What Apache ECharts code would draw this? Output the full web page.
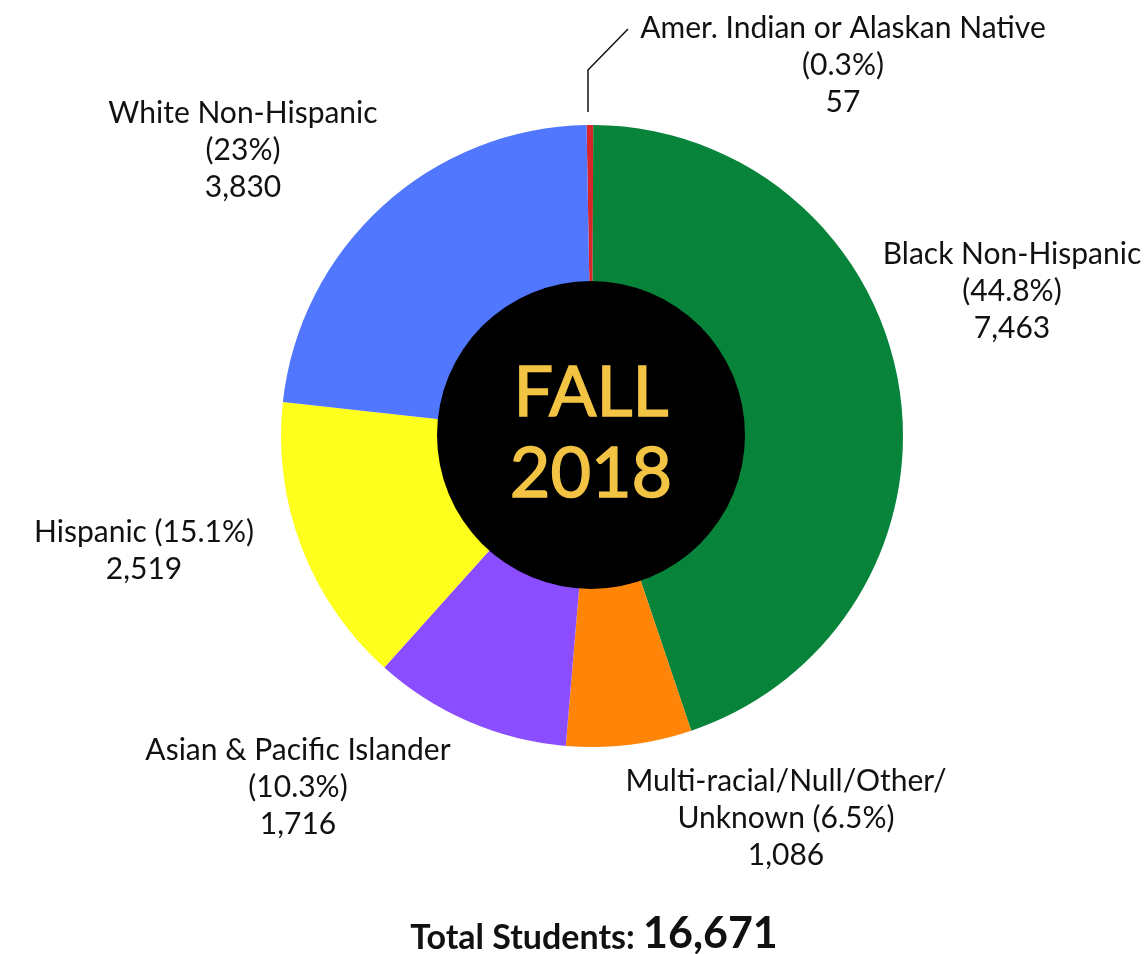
<!DOCTYPE html>
<html><head><meta charset="utf-8">
<script src="https://cdn.jsdelivr.net/npm/echarts@6/dist/echarts.min.js"></script>
<style>html,body{margin:0;padding:0;background:#fff}#c{width:1147px;height:954px}</style>
</head><body><div id="c"></div>
<script>
const categories = ['Amer. Indian or Alaskan Native', 'Black Non-Hispanic', 'Multi-racial/Null/Other/\nUnknown', 'Asian & Pacific Islander', 'Hispanic', 'White Non-Hispanic'];
const values = [57, 7463, 1086, 1716, 2519, 3830];
const percents = ['0.3%', '44.8%', '6.5%', '10.3%', '15.1%', '23%'];
const countLabels = ['57', '7,463', '1,086', '1,716', '2,519', '3,830'];
const colors = ['#d9262b', '#07843a', '#ff8508', '#8a4dff', '#ffff1e', '#5277ff'];
const totalText = '16,671';
const centerLines = ['FALL', '2018'];

const labelPos = [[843, 65], [1012, 291], [786, 818], [298, 787], [144, 551], [243, 150]];

const chart = echarts.init(document.getElementById('c'));
function labelText(i) {
  const c = categories[i];
  if (i === 2) return 'Multi-racial/Null/Other/\nUnknown (' + percents[i] + ')\n' + countLabels[i];
  if (i === 4) return c + ' (' + percents[i] + ')\n' + countLabels[i];
  return c + '\n(' + percents[i] + ')\n' + countLabels[i];
}
chart.setOption({
  animation: false,
  backgroundColor: '#ffffff',
  series: [{
    type: 'pie',
    center: [592, 436],
    radius: [140, 311],
    startAngle: 91,
    clockwise: true,
    avoidLabelOverlap: false,
    data: values.map((v, i) => ({
      value: v, name: categories[i],
      itemStyle: { color: colors[i] },
      label: { formatter: labelText(i) },
      labelLine: { show: i === 0 }
    })),
    label: {
      show: true, position: 'outside',
      fontFamily: 'Lato', fontSize: 30, lineHeight: 37, color: '#111', align: 'center'
    },
    labelLine: { show: true, lineStyle: { color: '#111', width: 1.5 } },
    labelLayout: function (p) {
      const pos = labelPos[p.dataIndex];
      const out = { x: pos[0], y: pos[1], align: 'center', verticalAlign: 'middle' };
      if (p.dataIndex === 0) out.labelLinePoints = [[588, 112], [588, 70], [628, 29]];
      return out;
    }
  }],
  graphic: [
    { type: 'circle', shape: { cx: 591, cy: 435, r: 154 }, style: { fill: '#000' }, z: 10 },
    { type: 'text', x: 591, y: 393, z: 11, style: { text: centerLines[0], fill: '#f3c444', stroke: '#f3c444', lineWidth: 1.5, font: '70px Lato', textAlign: 'center', textVerticalAlign: 'middle' } },
    { type: 'text', x: 591, y: 474, z: 11, style: { text: centerLines[1], fill: '#f3c444', stroke: '#f3c444', lineWidth: 1.5, font: '70px Lato', textAlign: 'center', textVerticalAlign: 'middle' } },
    { type: 'text', x: 594, y: 934, z: 11, style: {
        text: '{a|Total Students: }{b|' + totalText + '}',
        textAlign: 'center', textVerticalAlign: 'middle',
        rich: {
          a: { fontFamily: 'Lato', fontWeight: 'bold', fontSize: 34, fill: '#111', verticalAlign: 'bottom' },
          b: { fontFamily: 'Lato', fontWeight: 'bold', fontSize: 43, fill: '#111', verticalAlign: 'bottom' }
        } } }
  ]
});
</script></body></html>
